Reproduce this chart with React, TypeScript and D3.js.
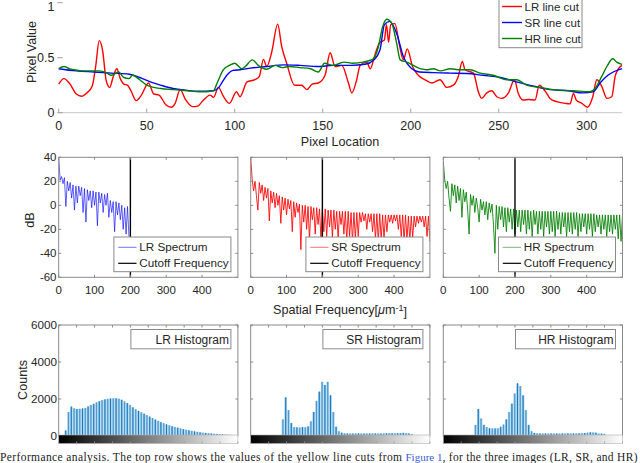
import React, { Component } from 'react';
import * as d3 from 'd3';

// top row: yellow line cuts, [pixel location, pixel value]
const lr_cut = [
  [0, 0.26], [3, 0.31], [6, 0.27], [10, 0.17], [13, 0.15], [16, 0.18], [19, 0.24], [21, 0.42], [23, 0.655],
  [25, 0.56], [27, 0.29], [29, 0.23], [31, 0.33], [33, 0.4], [35, 0.31], [37, 0.26], [39, 0.25], [41, 0.2],
  [44, 0.11], [47, 0.16], [51, 0.27], [54, 0.17], [57, 0.16], [61, 0.07], [64, 0.05], [66, 0.08], [69, 0.21],
  [72, 0.12], [76, 0.055], [79, 0.06], [82, 0.11], [86, 0.16], [88, 0.14], [90.7, 0.23], [93.5, 0.15],
  [97, 0.085], [101, 0.19], [103, 0.145], [107, 0.28], [111.5, 0.3], [114, 0.33], [116.3, 0.485], [118.2, 0.42],
  [121, 0.55], [124.4, 0.805], [126.7, 0.6], [129.5, 0.45], [134, 0.25], [138, 0.25], [141, 0.21], [144, 0.26],
  [147.5, 0.27], [151.3, 0.34], [154.2, 0.545], [157, 0.42], [160.8, 0.43], [164.6, 0.27], [166.5, 0.18],
  [169.3, 0.3], [171.2, 0.43], [175, 0.46], [177, 0.4], [179.7, 0.53], [182.5, 0.64], [185, 0.66], [186.2, 0.8],
  [187.4, 0.64], [188.6, 0.8], [191, 0.81], [193.5, 0.62], [195.8, 0.48], [198, 0.58], [201, 0.42], [204.3, 0.34],
  [208, 0.3], [212, 0.27], [216.6, 0.3], [220.5, 0.23], [224.2, 0.25], [227, 0.33], [229.3, 0.465], [230.8, 0.39],
  [235.6, 0.36], [238.4, 0.19], [240.3, 0.13], [243.2, 0.18], [246, 0.2], [248.9, 0.145], [251.7, 0.13],
  [255.5, 0.18], [258.9, 0.3], [261, 0.18], [264, 0.115], [267, 0.12], [270.6, 0.115], [273, 0.25], [276.2, 0.2],
  [279.1, 0.13], [282.9, 0.1], [287.7, 0.085], [290.5, 0.08], [292.4, 0.176], [294, 0.115], [297.2, 0.085],
  [300.4, 0.05], [303.4, 0.145], [305.7, 0.3], [308.5, 0.24], [311.4, 0.13], [314.2, 0.145], [316.1, 0.33],
  [318, 0.4], [320, 0.43],
];
const sr_cut = [
  [0, 0.4], [10, 0.38], [20, 0.37], [30, 0.36], [40, 0.35], [46, 0.32], [52, 0.28], [58, 0.25], [65, 0.22],
  [72, 0.205], [80, 0.195], [88, 0.2], [91, 0.23], [93, 0.28], [96, 0.35], [99, 0.385], [103, 0.39], [109, 0.405],
  [118, 0.42], [128, 0.435], [137, 0.43], [147, 0.42], [156, 0.43], [166, 0.43], [174, 0.44], [179, 0.48],
  [182.5, 0.57], [185, 0.8], [188, 0.83], [192, 0.72], [195.8, 0.51], [200.6, 0.4], [205, 0.37], [213, 0.364],
  [222, 0.36], [232, 0.357], [241, 0.34], [251, 0.32], [260, 0.28], [270, 0.24], [279, 0.21], [289, 0.2],
  [298, 0.18], [303.6, 0.19], [307.5, 0.27], [312, 0.34], [320, 0.4],
];
const hr_cut = [
  [0, 0.4], [3, 0.42], [6, 0.4], [9, 0.39], [14, 0.38], [18, 0.38], [23, 0.38], [27, 0.365], [30, 0.34],
  [34, 0.37], [37, 0.32], [40, 0.31], [42, 0.34], [46, 0.3], [50, 0.25], [54, 0.23], [58, 0.22], [65, 0.21],
  [73, 0.2], [80, 0.19], [84, 0.19], [88, 0.2], [90, 0.27], [93.5, 0.39], [97, 0.43], [100, 0.45], [104, 0.4],
  [106, 0.42], [110, 0.48], [113.4, 0.43], [118, 0.395], [123, 0.43], [127, 0.41], [131, 0.42], [137, 0.41],
  [143, 0.4], [147.5, 0.37], [151, 0.45], [156, 0.43], [162, 0.46], [167, 0.45], [173, 0.46], [178.8, 0.49],
  [181.6, 0.6], [184, 0.78], [186.4, 0.85], [189.3, 0.81], [192, 0.63], [194, 0.48], [197.7, 0.46],
  [201.5, 0.43], [205.3, 0.4], [209, 0.39], [212.8, 0.4], [217, 0.38], [222.3, 0.4], [228, 0.39], [233.7, 0.39],
  [239.4, 0.36], [246.9, 0.34], [254.5, 0.3], [260.2, 0.3], [265.8, 0.25], [273.4, 0.23], [281, 0.21],
  [292.4, 0.2], [301.8, 0.19], [304.7, 0.22], [308.5, 0.33], [311.4, 0.42], [314.8, 0.49], [317, 0.46], [320, 0.44],
];
const cut_names = ['LR line cut', 'SR line cut', 'HR line cut'];
const cut_colors = ['#ff0000', '#0000ff', '#008000'];
const cut_x_ticks = [0, 50, 100, 150, 200, 250, 300];
const cut_y_ticks = [0, 0.5, 1];

// middle row: spectra in dB, one sample every 4 um^-1 starting at 0
const spec_step = 4;
const lr_spectrum = [
  40, 21, 24, 18, 23, -1, 20, 12, 19, 6, 17, -4, 16, 2, 16, 8, 15, -6, 14, -14, 13, 4, 12, -2, 12, 0, 11, -17,
  11, 2, 10, -6, 9, 0, 10, -10, 4, -6, 3, -22, 3, -8, 2, -12, 0, -20, -2, -24, -1, -26,
];
const sr_spectrum = [
  40, 22, 12, 20, 8, -4, 19, 10, 17, 4, 15, 6, 14, -13, 12, 2, 11, -2, 10, 0, 8, -15, 7, -4, 6, -8, 5, -3, 4,
  -22, 3, -10, 2, -6, 1, -37, 0, -14, 0, -20, -1, -29, -1, -12, -2, -24, -2, -16, -3, -28, -3, -22, -3, -26, -4,
  -18, -4, -27, -4, -20, -5, -28, -5, -16, -5, -24, -5, -30, -5, -26, -6, -30, -6, -28, -6, -26, -6, -14, -6,
  -13, -7, -20, -7, -14, -7, -22, -7, -28, -7, -30, -7, -29, -8, -28, -8, -22, -8, -14, -8, -15, -8, -13, -8,
  -20, -8, -26, -8, -30, -8, -29, -9, -30, -9, -27, -9, -18, -9, -15, -9, -14, -9, -18, -9, -26, -9, -30,
];
const hr_spectrum = [
  37, 21, 14, 20, 6, -5, 18, 8, 17, 2, 16, 4, 14, -10, 13, 3, 11, -4, -24, 9, 0, 8, -6, 6, -2, -14, 5, -4, 3,
  -8, 3, -12, 2, -6, 1, -16, -40, 0, -20, -1, -12, -1, -18, -2, -22, -2, -14, -3, -20, -3, -24, -4, -18, -4,
  -22, -4, -16, -4, -24, -4, -20, -5, -26, -4, -16, -5, -24, -5, -20, -5, -26, -5, -18, -5, -24, -5, -22, -5,
  -26, -5, -20, -6, -24, -6, -18, -6, -26, -6, -22, -6, -24, -6, -20, -6, -26, -7, -22, -7, -18, -7, -24, -7,
  -20, -7, -26, -7, -22, -8, -18, -8, -24, -8, -20, -8, -26, -8, -22, -8, -24, -8, -20, -8, -28, -8, -30, -8,
];
const spec_names = ['LR Spectrum', 'SR Spectrum', 'HR Spectrum'];
const spec_colors = ['#0000ff', '#ff0000', '#008000'];
const spec_widths = [0.7, 0.95, 0.95];
const cutoff_freq = 200;
const spec_x_ticks = [0, 100, 200, 300, 400];
const spec_y_ticks = [40, 20, 0, -20, -40, -60];

// bottom row: grey level histograms, 64 bins over [0, 1]
const lr_hist = [
  0, 0, 300, 1300, 1590, 1500, 1460, 1470, 1490, 1520, 1600, 1680, 1740, 1820, 1880, 1940, 1980, 2010, 2030,
  2040, 2040, 2020, 1960, 1870, 1780, 1680, 1550, 1450, 1360, 1280, 1210, 1130, 1050, 970, 890, 820, 750, 690,
  630, 580, 530, 490, 450, 410, 370, 340, 310, 280, 250, 225, 200, 180, 165, 150, 135, 120, 110, 100, 90, 80,
  70, 60, 45, 20,
];
const sr_hist = [
  0, 0, 0, 0, 0, 0, 0, 0, 0, 0, 0, 900, 2090, 1400, 700, 480, 470, 460, 480, 470, 520, 800, 1300, 1900, 2400,
  2930, 2760, 2930, 2200, 1300, 500, 260, 180, 150, 140, 140, 135, 140, 145, 140, 135, 140, 140, 145, 140, 140,
  135, 140, 150, 155, 150, 145, 150, 160, 170, 150, 140, 100, 0, 0, 0, 0, 0, 0,
];
const hr_hist = [
  0, 0, 0, 0, 0, 0, 0, 0, 0, 0, 0, 600, 1460, 950, 600, 480, 420, 410, 410, 420, 500, 620, 900, 1300, 1750,
  2300, 2850, 2700, 2200, 1400, 600, 260, 170, 150, 140, 140, 140, 135, 140, 140, 140, 135, 140, 140, 145, 140,
  140, 140, 145, 150, 160, 180, 200, 195, 180, 130, 130, 120, 0, 0, 0, 0, 0, 0,
];
const hist_names = ['LR Histogram', 'SR Histogram', 'HR Histogram'];
const hist_y_ticks = [0, 2000, 4000, 6000];
const hist_x_ticks = d3.range(0, 11).map((d) => d / 10);

const caption_parts = [
  'Performance analysis. The top row shows the values of the yellow line cuts from',
  'Figure 1',
  ', for the three images (LR, SR, and HR)',
];

export default class App extends Component {
  svgRef: any;

  constructor(props: any) {
    super(props);
    this.svgRef = React.createRef();
  }

  componentDidMount() {
    this.drawChart();
  }

  componentDidUpdate() {
    this.drawChart();
  }

  drawChart() {
    const svg = d3.select(this.svgRef.current);
    svg.selectAll('*').remove();

    const font = '"Liberation Sans", Arial, sans-serif';
    const ink = '#262626';
    const frame = '#8a8a8a';
    const panel_left = [58.7, 250.7, 443.3];
    const panel_width = 179.2;

    const defs = svg.append('defs');
    const grad = defs.append('linearGradient').attr('id', 'greyramp');
    grad.append('stop').attr('offset', '0%').attr('stop-color', '#000');
    grad.append('stop').attr('offset', '100%').attr('stop-color', '#fff');

    // ---------------- top: line cuts ----------------
    const x = d3.scaleLinear().domain([0, 320]).range([58.7, 622]);
    const y = d3.scaleLinear().domain([0, 1]).range([112.7, 2.7]);
    const top = svg.append('g');

    top.append('line')
      .attr('x1', x(0)).attr('x2', x(320))
      .attr('y1', y(0)).attr('y2', y(0))
      .attr('stroke', '#c8c8c8').attr('stroke-width', 1);
    top.selectAll('.xt').data(cut_x_ticks).enter().append('line')
      .attr('x1', (d) => x(d)).attr('x2', (d) => x(d))
      .attr('y1', y(0)).attr('y2', y(0) - 4)
      .attr('stroke', '#a0a0a0');
    top.selectAll('.xl').data(cut_x_ticks).enter().append('text')
      .attr('x', (d) => x(d)).attr('y', 125.7).attr('dy', '0.35em')
      .attr('text-anchor', 'middle').attr('font-size', 12.5).attr('font-family', font).attr('fill', ink)
      .text((d) => d);
    top.selectAll('.yt').data(cut_y_ticks).enter().append('line')
      .attr('x1', x(0) - 1.5).attr('x2', x(0) + 4)
      .attr('y1', (d) => y(d)).attr('y2', (d) => y(d))
      .attr('stroke', '#a0a0a0');
    // the top label sits against the page edge, keep it inside
    top.selectAll('.yl').data(cut_y_ticks).enter().append('text')
      .attr('x', 54.5).attr('y', (d) => Math.max(y(d), 6.5)).attr('dy', '0.35em')
      .attr('text-anchor', 'end').attr('font-size', 12.5).attr('font-family', font).attr('fill', ink)
      .text((d) => d);

    const cut_line = d3.line().x((d: any) => x(d[0])).y((d: any) => y(d[1])).curve(d3.curveMonotoneX);
    [lr_cut, sr_cut, hr_cut].forEach((series, i) => {
      top.append('path')
        .attr('d', cut_line(series as any))
        .attr('fill', 'none').attr('stroke', cut_colors[i]).attr('stroke-width', 1.4)
        .attr('stroke-linejoin', 'round');
    });

    top.append('text')
      .attr('transform', 'translate(31.7,52) rotate(-90)')
      .attr('text-anchor', 'middle').attr('dy', '0.35em')
      .attr('font-size', 12.6).attr('font-family', font).attr('fill', ink)
      .text('Pixel Value');
    top.append('text')
      .attr('x', 340).attr('y', 141.7).attr('dy', '0.35em')
      .attr('text-anchor', 'middle').attr('font-size', 12.6).attr('font-family', font).attr('fill', ink)
      .text('Pixel Location');

    const leg = top.append('g').attr('transform', 'translate(499,-3)');
    leg.append('rect').attr('width', 83).attr('height', 50.7)
      .attr('fill', '#fff').attr('stroke', '#8a8a8a').attr('stroke-width', 1);
    cut_names.forEach((name, i) => {
      const ly = 9.5 + i * 16;
      leg.append('line').attr('x1', 3).attr('x2', 23).attr('y1', ly).attr('y2', ly)
        .attr('stroke', cut_colors[i]).attr('stroke-width', 1.4);
      leg.append('text').attr('x', 25.5).attr('y', ly).attr('dy', '0.35em')
        .attr('font-size', 11.5).attr('font-family', font).attr('fill', ink)
        .text(name);
    });

    // ---------------- middle: spectra ----------------
    const sy = d3.scaleLinear().domain([-60, 40]).range([277.3, 157.3]);
    [lr_spectrum, sr_spectrum, hr_spectrum].forEach((spectrum, p) => {
      const left = panel_left[p];
      const sx = d3.scaleLinear().domain([0, 500]).range([left, left + panel_width]);
      const g = svg.append('g');
      const clip_id = 'specclip' + p;
      defs.append('clipPath').attr('id', clip_id).append('rect')
        .attr('x', left).attr('y', sy(40)).attr('width', panel_width).attr('height', sy(-60) - sy(40));

      const spec_line = d3.line().x((d: any, i: number) => sx(i * spec_step)).y((d: any) => sy(d));
      g.append('path')
        .attr('clip-path', 'url(#' + clip_id + ')')
        .attr('d', spec_line(spectrum as any))
        .attr('fill', 'none').attr('stroke', spec_colors[p]).attr('stroke-width', spec_widths[p])
        .attr('stroke-opacity', 0.9);

      g.append('line')
        .attr('x1', sx(cutoff_freq)).attr('x2', sx(cutoff_freq))
        .attr('y1', sy(40)).attr('y2', sy(-60))
        .attr('stroke', '#000').attr('stroke-width', 1.4);

      // legend
      const lg = g.append('g').attr('transform', 'translate(' + (left + panel_width - 124) + ',237)');
      lg.append('rect').attr('width', 117).attr('height', 34.7)
        .attr('fill', '#fff').attr('stroke', frame).attr('stroke-width', 1);
      lg.append('line').attr('x1', 4.3).attr('x2', 22.6).attr('y1', 10.3).attr('y2', 10.3)
        .attr('stroke', spec_colors[p]).attr('stroke-width', 1).attr('stroke-opacity', 0.55);
      lg.append('text').attr('x', 25.3).attr('y', 10.3).attr('dy', '0.35em')
        .attr('font-size', 11.7).attr('font-family', font).attr('fill', ink).text(spec_names[p]);
      lg.append('line').attr('x1', 4.3).attr('x2', 22.6).attr('y1', 26.3).attr('y2', 26.3)
        .attr('stroke', '#000').attr('stroke-width', 1.2);
      lg.append('text').attr('x', 25.3).attr('y', 26.3).attr('dy', '0.35em')
        .attr('font-size', 11.7).attr('font-family', font).attr('fill', ink).text('Cutoff Frequency');

      // frame and ticks
      g.append('rect')
        .attr('x', left).attr('y', sy(40)).attr('width', panel_width).attr('height', sy(-60) - sy(40))
        .attr('fill', 'none').attr('stroke', frame).attr('stroke-width', 1);
      spec_x_ticks.forEach((t) => {
        g.append('line').attr('x1', sx(t)).attr('x2', sx(t)).attr('y1', sy(-60)).attr('y2', sy(-60) - 2.5)
          .attr('stroke', frame);
        g.append('line').attr('x1', sx(t)).attr('x2', sx(t)).attr('y1', sy(40)).attr('y2', sy(40) + 2.5)
          .attr('stroke', frame);
        g.append('text').attr('x', sx(t)).attr('y', 290).attr('dy', '0.35em')
          .attr('text-anchor', 'middle').attr('font-size', 11.5).attr('font-family', font).attr('fill', ink)
          .text(t);
      });
      spec_y_ticks.forEach((t) => {
        g.append('line').attr('x1', left).attr('x2', left + 2.5).attr('y1', sy(t)).attr('y2', sy(t))
          .attr('stroke', frame);
        g.append('line').attr('x1', left + panel_width).attr('x2', left + panel_width - 2.5)
          .attr('y1', sy(t)).attr('y2', sy(t)).attr('stroke', frame);
        if (p === 0) {
          g.append('text').attr('x', 56.5).attr('y', sy(t)).attr('dy', '0.35em')
            .attr('text-anchor', 'end').attr('font-size', 11.5).attr('font-family', font).attr('fill', ink)
            .text(t);
        }
      });
    });

    svg.append('text')
      .attr('transform', 'translate(30,220) rotate(-90)')
      .attr('text-anchor', 'middle').attr('dy', '0.35em')
      .attr('font-size', 12.6).attr('font-family', font).attr('fill', ink)
      .text('dB');
    const freq_label = svg.append('text')
      .attr('x', 340).attr('y', 310).attr('dy', '0.35em')
      .attr('text-anchor', 'middle').attr('font-size', 12.6).attr('font-family', font).attr('fill', ink);
    freq_label.append('tspan').text('Spatial Frequency[');
    freq_label.append('tspan').attr('font-style', 'italic').text('μ');
    freq_label.append('tspan').text('m');
    freq_label.append('tspan').attr('dy', '-0.4em').attr('font-size', 9).text('-1');
    freq_label.append('tspan').attr('dy', '0.4em').text(']');

    // ---------------- bottom: histograms ----------------
    const hy = d3.scaleLinear().domain([0, 6000]).range([436, 325]);
    const n_bins = 64;
    [lr_hist, sr_hist, hr_hist].forEach((counts, p) => {
      const left = panel_left[p];
      const hx = d3.scaleLinear().domain([0, 1]).range([left, left + panel_width]);
      const g = svg.append('g');
      const bw = hx(1 / n_bins) - hx(0);

      g.selectAll('.bar').data(counts).enter().append('rect')
        .attr('x', (d, i) => hx(i / n_bins) + 0.2)
        .attr('y', (d) => hy(d))
        .attr('width', bw - 0.4)
        .attr('height', (d) => hy(0) - hy(d))
        .attr('fill', '#0072bd').attr('fill-opacity', 0.42);
      g.selectAll('.stem').data(counts).enter().append('line')
        .attr('x1', (d, i) => hx((i + 0.5) / n_bins))
        .attr('x2', (d, i) => hx((i + 0.5) / n_bins))
        .attr('y1', hy(0))
        .attr('y2', (d) => hy(d))
        .attr('stroke', '#0072bd').attr('stroke-width', (d, i) => (i % 2 === 0 ? 0.9 : 0.5));

      // frame
      g.append('rect')
        .attr('x', left).attr('y', hy(6000)).attr('width', panel_width).attr('height', hy(0) - hy(6000))
        .attr('fill', 'none').attr('stroke', frame).attr('stroke-width', 1);
      hist_x_ticks.forEach((t) => {
        g.append('line').attr('x1', hx(t)).attr('x2', hx(t)).attr('y1', hy(6000)).attr('y2', hy(6000) + 2.5)
          .attr('stroke', frame);
      });
      hist_y_ticks.forEach((t) => {
        g.append('line').attr('x1', left).attr('x2', left + 2.5).attr('y1', hy(t)).attr('y2', hy(t))
          .attr('stroke', frame);
        g.append('line').attr('x1', left + panel_width).attr('x2', left + panel_width - 2.5)
          .attr('y1', hy(t)).attr('y2', hy(t)).attr('stroke', frame);
        if (p === 0) {
          g.append('text').attr('x', 57).attr('y', hy(t)).attr('dy', '0.35em')
            .attr('text-anchor', 'end').attr('font-size', 11.7).attr('font-family', font).attr('fill', ink)
            .text(t);
        }
      });

      // grey ramp under the axis
      g.append('rect')
        .attr('x', left).attr('y', 435).attr('width', panel_width).attr('height', 8.5)
        .attr('fill', 'url(#greyramp)').attr('stroke', '#b0b0b0').attr('stroke-width', 0.6);
      hist_x_ticks.forEach((t) => {
        g.append('line').attr('x1', hx(t)).attr('x2', hx(t)).attr('y1', 443.5).attr('y2', 441.5)
          .attr('stroke', '#9a9a9a').attr('stroke-width', 0.8);
      });

      // legend
      const lg = g.append('g').attr('transform', 'translate(' + (left + panel_width - 107) + ',329.5)');
      lg.append('rect').attr('width', 100).attr('height', 19.3)
        .attr('fill', '#fff').attr('stroke', frame).attr('stroke-width', 1);
      lg.append('text').attr('x', 98).attr('y', 9.8).attr('dy', '0.35em')
        .attr('text-anchor', 'end').attr('font-size', 12).attr('font-family', font).attr('fill', ink)
        .text(hist_names[p]);
    });

    svg.append('text')
      .attr('transform', 'translate(22.7,380) rotate(-90)')
      .attr('text-anchor', 'middle').attr('dy', '0.35em')
      .attr('font-size', 12.6).attr('font-family', font).attr('fill', ink)
      .text('Counts');

    // caption line along the bottom edge
    const serif = '"Liberation Serif", "Times New Roman", serif';
    svg.append('text').attr('x', 0).attr('y', 460.5)
      .attr('font-size', 11.5).attr('font-family', serif).attr('fill', '#222')
      .attr('textLength', 402).attr('lengthAdjust', 'spacing')
      .text(caption_parts[0]);
    svg.append('text').attr('x', 405.5).attr('y', 460.5)
      .attr('font-size', 11).attr('font-family', serif).attr('fill', '#3b5bdb')
      .text(caption_parts[1]);
    svg.append('text').attr('x', 442.5).attr('y', 460.5)
      .attr('font-size', 11.5).attr('font-family', serif).attr('fill', '#222')
      .attr('textLength', 195).attr('lengthAdjust', 'spacing')
      .text(caption_parts[2]);
  }

  render() {
    return (
      <svg
        ref={this.svgRef}
        width={640}
        height={463}
        style={{ position: 'absolute', left: 0, top: 0, background: '#fff', display: 'block' }}
      />
    );
  }
}
